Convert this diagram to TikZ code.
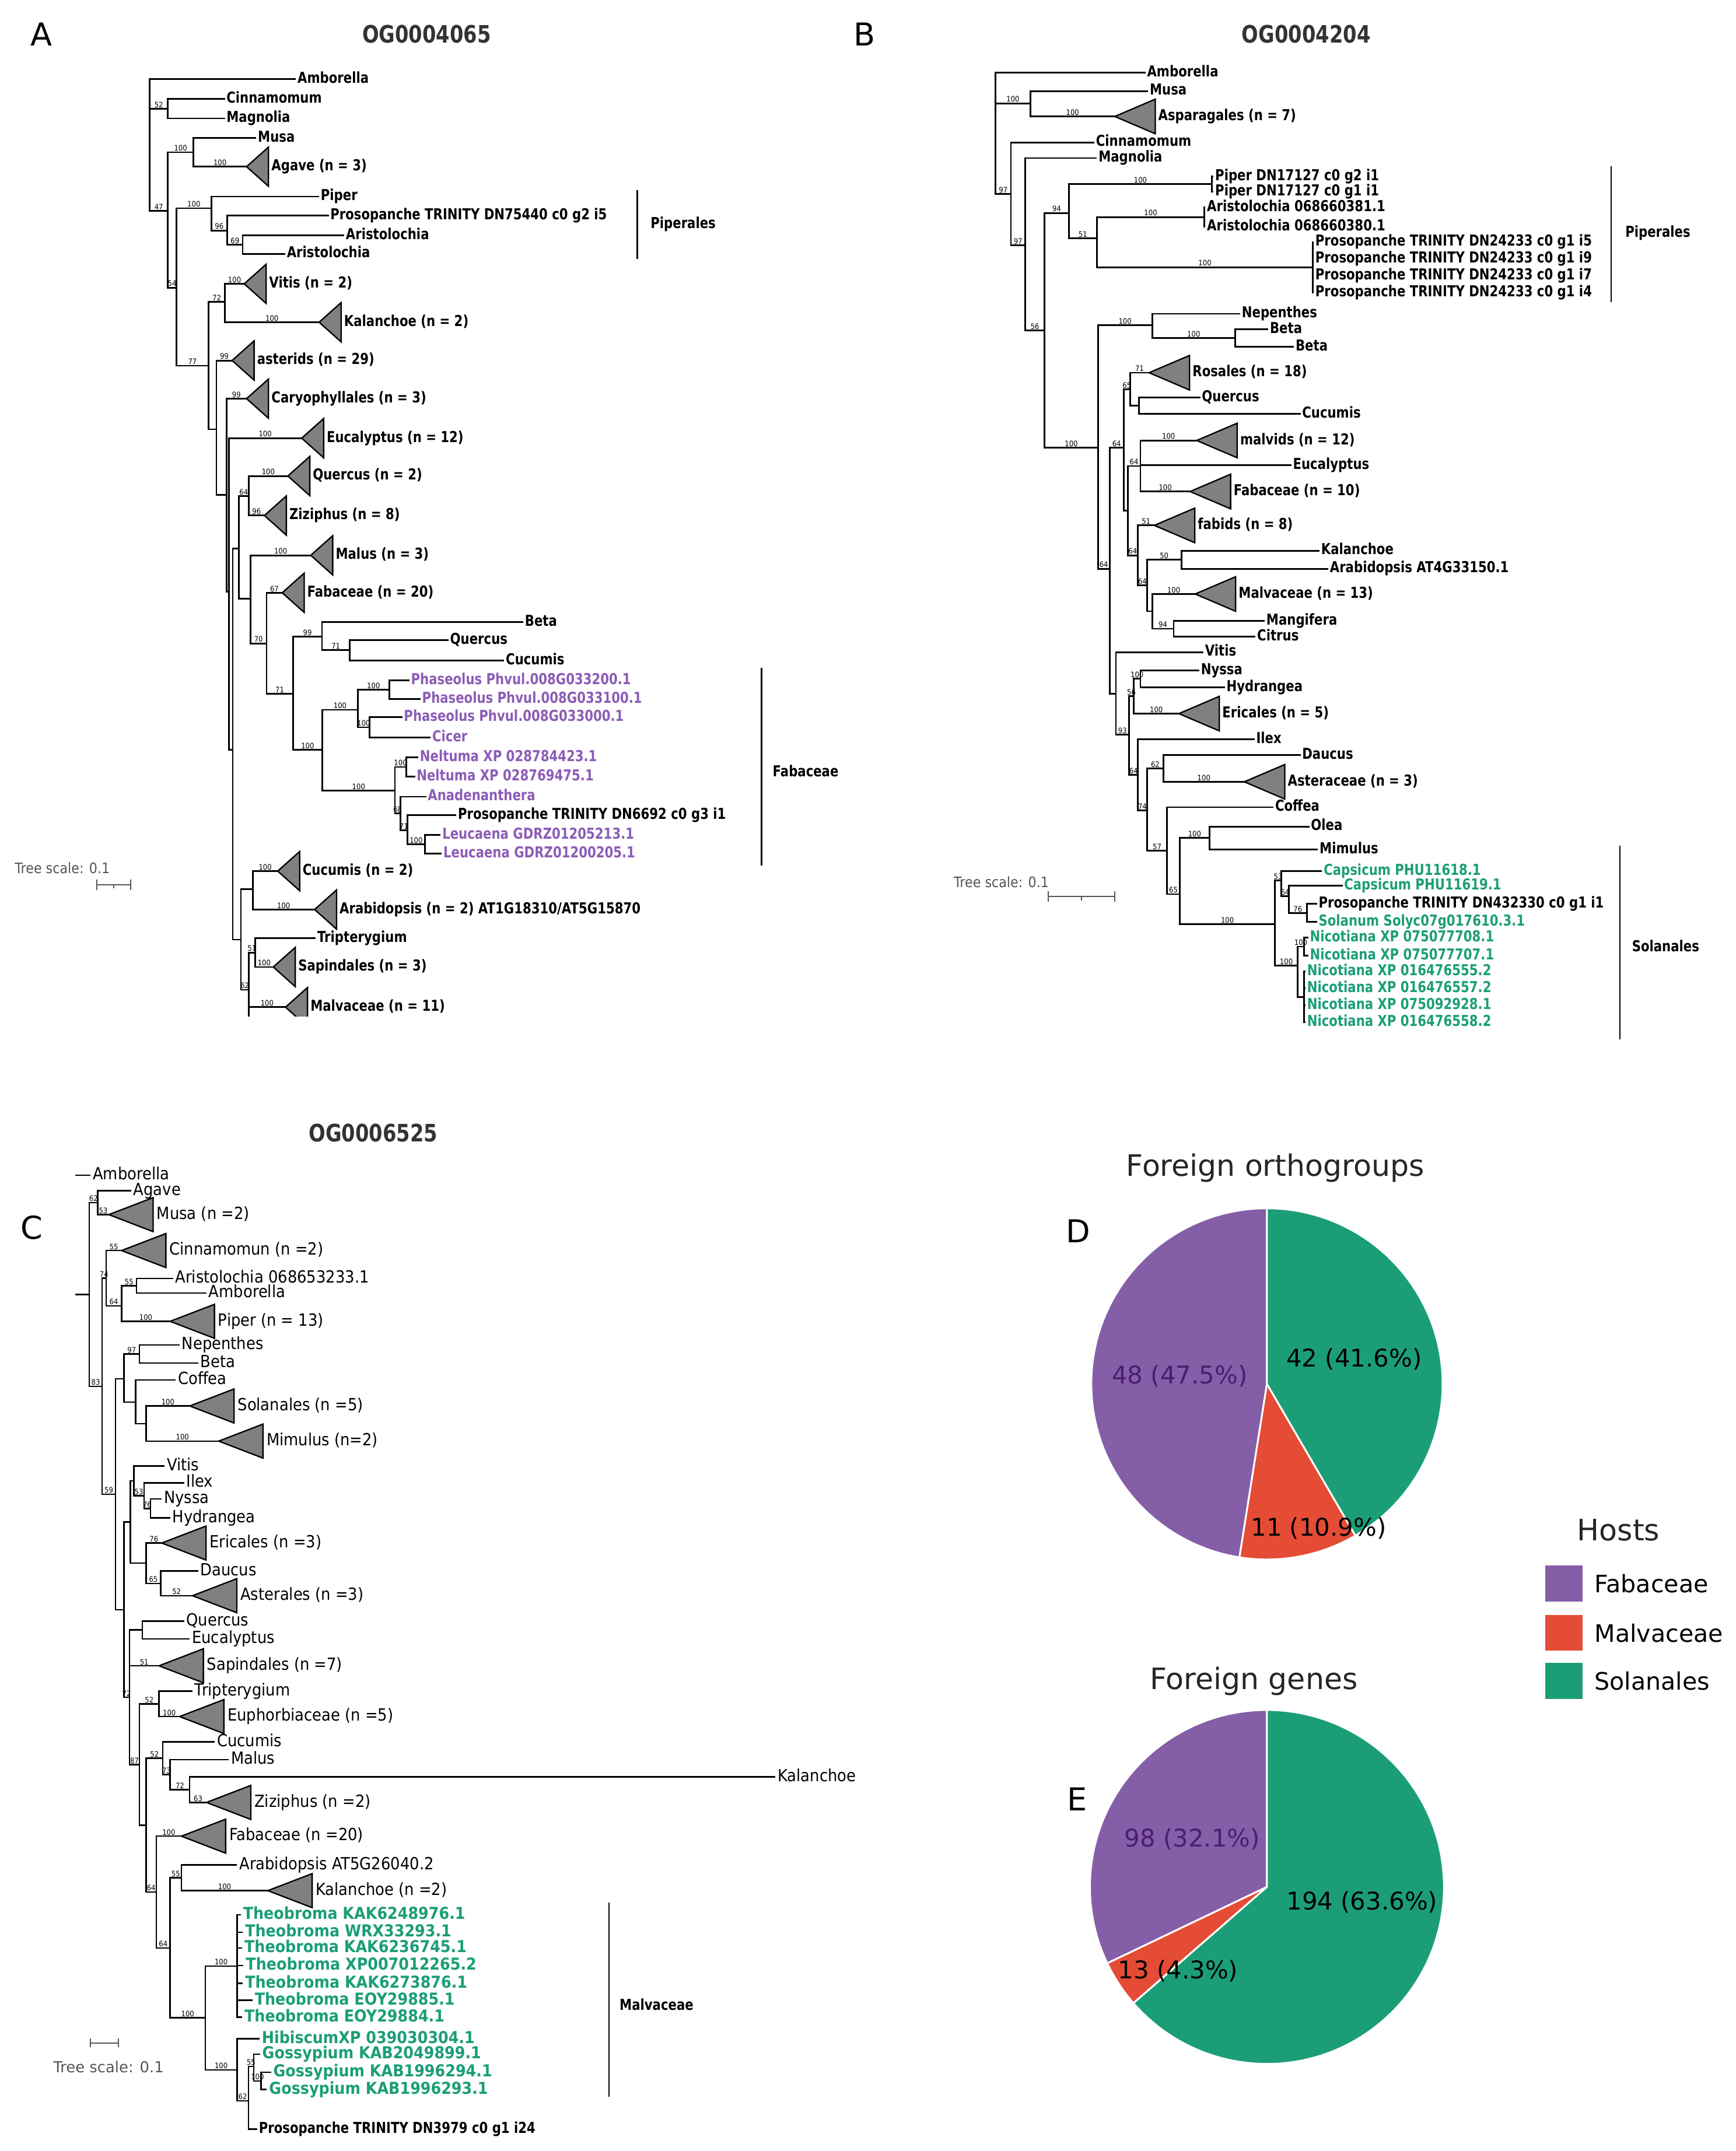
\documentclass[tikz,border=0pt]{standalone}
\usepackage{fontspec}
\setmainfont{DejaVu Sans}
\newfontfamily\cnd{DejaVu Sans}[FakeStretch=0.9]
\newfontfamily\cndn{DejaVu Sans}[FakeStretch=0.82]
\definecolor{fabc}{HTML}{855EA8}
\definecolor{malc}{HTML}{E54C35}
\definecolor{solc}{HTML}{1B9E77}
\definecolor{fabtxt}{HTML}{8C5CB6}
\definecolor{fabdark}{HTML}{4B1D6B}
\definecolor{titc}{HTML}{333333}
\definecolor{scalec}{HTML}{555555}
\tikzset{
  br/.style={line width=1.2pt},
  brc/.style={line width=1pt},
  bar/.style={line width=1pt},
  lfa/.style={anchor=west, inner xsep=1pt, inner ysep=0pt, text height=8pt, text depth=2.2pt,
    font=\cndn\bfseries\fontsize{11}{13}\selectfont},
  lfc/.style={anchor=west, inner xsep=1.5pt, inner ysep=0pt, text height=8.9pt, text depth=2.4pt,
    font=\cnd\fontsize{12.2}{14}\selectfont},
  lfcb/.style={lfc, text height=8.8pt, text depth=2.4pt, text=solc,
    font=\cnd\bfseries\fontsize{12}{14}\selectfont},
  fab/.style={text=fabtxt},
  sol/.style={text=solc},
  bs/.style={pos=.75, anchor=south, inner sep=0.3pt, font=\cnd\fontsize{5.5}{6}\selectfont},
  cladeshape/.style={draw, fill=gray, line width=1pt},
  grp/.style={anchor=west, inner sep=0pt, font=\cndn\bfseries\fontsize{11}{13}\selectfont},
  ttl/.style={text=titc, font=\cndn\bfseries\fontsize{17.5}{20}\selectfont},
  pnl/.style={font=\fontsize{23}{26}\selectfont},
  tsc/.style={anchor=west, inner sep=0pt, text=scalec, font=\cnd\fontsize{10.5}{12}\selectfont},
  sbar/.style={line width=0.9pt, draw=scalec},
  ptitle/.style={text=black!85, font=\fontsize{21.5}{24}\selectfont},
  plab/.style={font=\fontsize{17.8}{20}\selectfont},
  key/.style={minimum width=27.3pt, minimum height=26.2pt, inner sep=0pt},
  ltext/.style={anchor=west, inner sep=0pt, font=\fontsize{17.5}{20}\selectfont},
}
% collapsed clade: name, apex x, apex y, width, half height, label, label style
\newcommand{\clade}[7]{%
  \coordinate (#1) at (#2,#3);
  \draw[cladeshape] (#1) -- ++(#4,-#5) -- ++(0,2*#5) -- cycle;
  \node[#7] (#1l) at (#2+#4+1,#3) {#6};}
\newcommand{\slice}[4]{%
  \filldraw[fill=#3, draw=white, line width=1.3pt] (0,0) -- (#1:#4pt)
    arc[start angle=#1, end angle=#2, radius=#4pt] -- cycle;}

\begin{document}
\begin{tikzpicture}[x=1pt,y=-1pt]
  \fill[white] (0,0) rectangle (1265,1568);
  \useasboundingbox (0,0) rectangle (1265,1568);

  % ---------------- A
  \node[pnl] (pA) at (30,25) {A};
  \node[ttl] (tA) at (311,25) {OG0004065};

  \begin{scope}
  \clip (0,0) rectangle (640,741);
  \coordinate (Ar) at (109.2,105.6);
  \coordinate (A52) at (122.3,79.3);
  \coordinate (A47) at (122.3,153.7);
  \coordinate (A100) at (141.0,111.0);
  \coordinate (A54) at (128.6,209.7);
  \coordinate (Apip) at (154.0,151.8);
  \coordinate (A96) at (165.6,168.0);
  \coordinate (A69) at (176.9,178.4);
  \coordinate (A77) at (152.0,266.6);
  \coordinate (A72) at (163.9,220.1);
  \coordinate (An1) at (157.7,312.9);
  \coordinate (An2) at (165.0,360.9);
  \coordinate (An2b) at (166.7,431.2);
  \coordinate (An3) at (169.6,546.7);
  \coordinate (An4) at (174.0,399.9);
  \coordinate (An5) at (181.3,361.7);
  \coordinate (An6) at (182.6,436.5);
  \coordinate (An7) at (194.3,469.0);
  \coordinate (An8) at (213.5,505.6);
  \coordinate (An9) at (234.7,464.1);
  \coordinate (An9b) at (254.8,473.9);
  \coordinate (An10) at (235.0,546.7);
  \coordinate (An11) at (260.7,517.4);
  \coordinate (An11a) at (283.8,502.8);
  \coordinate (An11b) at (269.5,530.2);
  \coordinate (An12) at (287.8,576.4);
  \coordinate (An12a) at (296.0,559.1);
  \coordinate (An12b) at (291.9,593.0);
  \coordinate (An12c) at (296.8,605.2);
  \coordinate (An12d) at (309.8,615.4);
  \coordinate (An13) at (175.6,684.9);
  \coordinate (An14) at (184.2,648.3);
  \coordinate (An15) at (181.3,721.5);
  \coordinate (An16) at (185.9,694.4);
  \coordinate (Acut) at (181.3,741);

  \node[lfa] (Aamb) at (215.7,57.5) {Amborella};
  \node[lfa] (Acin) at (163.9,72.1) {Cinnamomum};
  \node[lfa] (Amag) at (163.9,86.3) {Magnolia};
  \node[lfa] (Amus) at (186.8,100.6) {Musa};
  \node[lfa] (Apiper) at (232.6,143.3) {Piper};
  \node[lfa] (Apro) at (239.6,157.1) {Prosopanche TRINITY DN75440 c0 g2 i5};
  \node[lfa] (Aari) at (250.9,171.7) {Aristolochia};
  \node[lfa] (Aarib) at (207.9,185.0) {Aristolochia};
  \node[lfa] (Abeta) at (381.4,453.6) {Beta};
  \node[lfa] (Aque) at (326.9,466.6) {Quercus};
  \node[lfa] (Acuc) at (367.5,481.6) {Cucumis};
  \node[lfa,fab] (Aph1) at (298.4,495.9) {Phaseolus Phvul.008G033200.1};
  \node[lfa,fab] (Aph2) at (306.5,509.7) {Phaseolus Phvul.008G033100.1};
  \node[lfa,fab] (Aph3) at (293.2,522.8) {Phaseolus Phvul.008G033000.1};
  \node[lfa,fab] (Acic) at (313.9,537.7) {Cicer};
  \node[lfa,fab] (Anel1) at (304.9,552.0) {Neltuma XP 028784423.1};
  \node[lfa,fab] (Anel2) at (302.5,566.2) {Neltuma XP 028769475.1};
  \node[lfa,fab] (Aana) at (310.6,580.8) {Anadenanthera};
  \node[lfa] (Apro2) at (332.6,594.3) {Prosopanche TRINITY DN6692 c0 g3 i1};
  \node[lfa,fab] (Aleu1) at (321.2,608.5) {Leucaena GDRZ01205213.1};
  \node[lfa,fab] (Aleu2) at (322.0,622.3) {Leucaena GDRZ01200205.1};
  \node[lfa] (Atri) at (230.1,683.8) {Tripterygium};

  \clade{Aaga}{179.7}{121.5}{16}{14.3}{Agave (n = 3)}{lfa}
  \clade{Avit}{178.0}{206.9}{16}{14.3}{Vitis (n = 2)}{lfa}
  \clade{Akal}{232.6}{234.9}{16}{14.3}{Kalanchoe (n = 2)}{lfa}
  \clade{Aast}{169.2}{262.8}{16}{14.3}{asterids (n = 29)}{lfa}
  \clade{Acar}{179.7}{290.6}{16}{14.3}{Caryophyllales (n = 3)}{lfa}
  \clade{Aeuc}{219.9}{319.4}{16}{14.3}{Eucalyptus (n = 12)}{lfa}
  \clade{Aqc}{209.8}{347.0}{16}{14.3}{Quercus (n = 2)}{lfa}
  \clade{Aziz}{192.7}{375.8}{16}{14.3}{Ziziphus (n = 8)}{lfa}
  \clade{Amal}{226.5}{404.8}{16}{14.3}{Malus (n = 3)}{lfa}
  \clade{Afab}{205.7}{432.1}{16}{14.3}{Fabaceae (n = 20)}{lfa}
  \clade{Acc}{202.4}{635.0}{16}{14.3}{Cucumis (n = 2)}{lfa}
  \clade{Aara}{229.3}{663.0}{16}{14.3}{Arabidopsis (n = 2) AT1G18310/AT5G15870}{lfa}
  \clade{Asap}{199.2}{704.9}{16}{14.3}{Sapindales (n = 3)}{lfa}
  \clade{Amv}{208.1}{734.2}{16}{14.3}{Malvaceae (n = 11)}{lfa}

  \draw[br] (Ar) |- (Aamb.west) (Ar) |- node[bs]{52} (A52) (Ar) |- node[bs]{47} (A47);
  \draw[br] (A52) |- (Acin.west) (A52) |- (Amag.west);
  \draw[br] (A47) |- node[bs]{100} (A100) (A47) |- node[bs]{54} (A54);
  \draw[br] (A100) |- (Amus.west) (A100) |- node[bs]{100} (Aaga);
  \draw[br] (A54) |- node[bs]{100} (Apip) (A54) |- node[bs]{77} (A77);
  \draw[br] (Apip) |- (Apiper.west) (Apip) |- node[bs]{96} (A96);
  \draw[br] (A96) |- (Apro.west) (A96) |- node[bs]{69} (A69);
  \draw[br] (A69) |- (Aari.west) (A69) |- (Aarib.west);
  \draw[br] (A77) |- node[bs]{72} (A72) (A77) |- (An1);
  \draw[br] (A72) |- node[bs]{100} (Avit) (A72) |- node[bs]{100} (Akal);
  \draw[br] (An1) |- node[bs]{99} (Aast) (An1) |- (An2);
  \draw[br] (An2) |- node[bs]{99} (Acar) (An2) |- (An2b);
  \draw[br] (An2b) |- node[bs]{100} (Aeuc) (An2b) |- (An3);
  \draw[br] (An3) |- (An4) (An3) |- (An13);
  \draw[br] (An4) |- node[bs]{64} (An5) (An4) |- (An6);
  \draw[br] (An5) |- node[bs]{100} (Aqc) (An5) |- node[bs]{96} (Aziz);
  \draw[br] (An6) |- node[bs]{100} (Amal) (An6) |- node[bs]{70} (An7);
  \draw[br] (An7) |- node[bs]{67} (Afab) (An7) |- node[bs]{71} (An8);
  \draw[br] (An8) |- node[bs]{99} (An9) (An8) |- node[bs]{100} (An10);
  \draw[br] (An9) |- (Abeta.west) (An9) |- node[bs]{71} (An9b);
  \draw[br] (An9b) |- (Aque.west) (An9b) |- (Acuc.west);
  \draw[br] (An10) |- node[bs]{100} (An11) (An10) |- node[bs]{100} (An12);
  \draw[br] (An11) |- node[bs]{100} (An11a) (An11) |- node[bs]{100} (An11b);
  \draw[br] (An11a) |- (Aph1.west) (An11a) |- (Aph2.west);
  \draw[br] (An11b) |- (Aph3.west) (An11b) |- (Acic.west);
  \draw[br] (An12) |- node[bs]{100} (An12a) (An12) |- node[bs]{68} (An12b);
  \draw[br] (An12a) |- (Anel1.west) (An12a) |- (Anel2.west);
  \draw[br] (An12b) |- (Aana.west) (An12b) |- node[bs]{71} (An12c);
  \draw[br] (An12c) |- (Apro2.west) (An12c) |- node[bs]{100} (An12d);
  \draw[br] (An12d) |- (Aleu1.west) (An12d) |- (Aleu2.west);
  \draw[br] (An13) |- (An14) (An13) |- node[bs]{62} (An15);
  \draw[br] (An14) |- node[bs]{100} (Acc) (An14) |- node[bs]{100} (Aara);
  \draw[br] (An15) |- node[bs]{51} (An16) (An15) |- node[bs]{100} (Amv) (An15) -- (Acut);
  \draw[br] (An16) |- (Atri.west) (An16) |- node[bs]{100} (Asap);
  \end{scope}

  \draw[bar] (464.5,138.5) -- (464.5,188.8);
  \node[grp] (gApip) at (474,163.6) {Piperales};
  \draw[bar] (555,487) -- (555,631);
  \node[grp] (gAfab) at (563,562) {Fabaceae};
  \node[tsc] (sA) at (10.6,632.8) {Tree scale: 0.1};
  \draw[sbar] (70.5,644.8) -- (95.1,644.8) (70.5,641) -- (70.5,648.6)
    (95.1,641) -- (95.1,648.6) (82.8,644.8) -- (82.8,647.5);

  % ---------------- B
  \node[pnl] (pB) at (630,25) {B};
  \node[ttl] (tB) at (952,25) {OG0004204};

  \coordinate (Br) at (725.6,97.2);
  \coordinate (B100a) at (751.0,75.3);
  \coordinate (B97a) at (736.8,141.5);
  \coordinate (B97b) at (747.2,178.9);
  \coordinate (B56) at (761.4,240.9);
  \coordinate (B94) at (779.0,155.3);
  \coordinate (Bpip) at (883.4,134.2);
  \coordinate (B51) at (799.5,173.7);
  \coordinate (Bari) at (877.8,158.2);
  \coordinate (Bpr) at (956.9,194.8);
  \coordinate (B100b) at (800.2,326.4);
  \coordinate (B100c) at (839.8,237.2);
  \coordinate (B100d) at (900.2,246.4);
  \coordinate (B64) at (808.8,414.6);
  \coordinate (B64a) at (818.9,326.4);
  \coordinate (B65) at (823.7,283.9);
  \coordinate (Bqc) at (830.1,295.8);
  \coordinate (B64b) at (821.9,372.2);
  \coordinate (Bmef) at (831.2,339.7);
  \coordinate (Bx) at (829.3,404.8);
  \coordinate (By) at (836.0,426.8);
  \coordinate (Bka) at (861.0,408.0);
  \coordinate (Bmm) at (839.8,445.6);
  \coordinate (Bmc) at (855.4,458.3);
  \coordinate (Bl) at (813.3,505.6);
  \coordinate (B93) at (823.0,535.5);
  \coordinate (Be) at (826.3,507.5);
  \coordinate (Bnh) at (831.2,494.8);
  \coordinate (B64c) at (829.3,564.8);
  \coordinate (B74) at (836.0,590.6);
  \coordinate (Bda) at (848.0,560.2);
  \coordinate (B57) at (850.6,620.1);
  \coordinate (B65b) at (859.9,651.8);
  \coordinate (Bom) at (881.5,610.9);
  \coordinate (Bsol) at (929.3,673.8);
  \coordinate (B53) at (933.8,641.7);
  \coordinate (B53b) at (939.4,653.2);
  \coordinate (B76) at (952.4,665.5);
  \coordinate (Bnic) at (945.7,704.0);
  \coordinate (Bna) at (950.5,690.0);
  \coordinate (Bnb) at (950.5,726.7);

  \node[lfa] (Bamb) at (834.9,52.9) {Amborella};
  \node[lfa] (Bmus) at (836.8,66.4) {Musa};
  \node[lfa] (Bcin) at (797.6,103.8) {Cinnamomum};
  \node[lfa] (Bmag) at (799.5,115.2) {Magnolia};
  \node[lfa] (Bpi1) at (884.5,128.5) {Piper DN17127 c0 g2 i1};
  \node[lfa] (Bpi2) at (884.5,139.9) {Piper DN17127 c0 g1 i1};
  \node[lfa] (Bar1) at (878.5,151.3) {Aristolochia 068660381.1};
  \node[lfa] (Bar2) at (878.5,165.1) {Aristolochia 068660380.1};
  \node[lfa] (Bpr1) at (957.5,176.5) {Prosopanche TRINITY DN24233 c0 g1 i5};
  \node[lfa] (Bpr2) at (957.5,188.7) {Prosopanche TRINITY DN24233 c0 g1 i9};
  \node[lfa] (Bpr3) at (957.5,200.9) {Prosopanche TRINITY DN24233 c0 g1 i7};
  \node[lfa] (Bpr4) at (957.5,213.1) {Prosopanche TRINITY DN24233 c0 g1 i4};
  \node[lfa] (Bnep) at (903.9,228.7) {Nepenthes};
  \node[lfa] (Bbe1) at (924.4,240.0) {Beta};
  \node[lfa] (Bbe2) at (943.1,252.9) {Beta};
  \node[lfa] (Bque) at (874.8,289.8) {Quercus};
  \node[lfa] (Bcuc) at (947.9,301.7) {Cucumis};
  \node[lfa] (Beuc) at (941.2,339.1) {Eucalyptus};
  \node[lfa] (Bkal) at (961.7,401.4) {Kalanchoe};
  \node[lfa] (Bara) at (968.1,414.6) {Arabidopsis AT4G33150.1};
  \node[lfa] (Bman) at (921.8,452.6) {Mangifera};
  \node[lfa] (Bcit) at (915.1,464.0) {Citrus};
  \node[lfa] (Bvit) at (877.1,475.4) {Vitis};
  \node[lfa] (Bnys) at (874.1,488.6) {Nyssa};
  \node[lfa] (Bhyd) at (892.7,501.0) {Hydrangea};
  \node[lfa] (Bile) at (914.4,539.0) {Ilex};
  \node[lfa] (Bdau) at (947.9,550.5) {Daucus};
  \node[lfa] (Bcof) at (928.2,588.4) {Coffea};
  \node[lfa] (Bole) at (954.3,602.5) {Olea};
  \node[lfa] (Bmim) at (960.6,619.2) {Mimulus};
  \node[lfa,sol] (Bcap1) at (963.6,635.1) {Capsicum PHU11618.1};
  \node[lfa,sol] (Bcap2) at (978.5,645.6) {Capsicum PHU11619.1};
  \node[lfa] (Bpx) at (959.9,658.9) {Prosopanche TRINITY DN432330 c0 g1 i1};
  \node[lfa,sol] (Bsola) at (959.9,672.1) {Solanum Solyc07g017610.3.1};
  \node[lfa,sol] (Bni1) at (953.5,683.5) {Nicotiana XP 075077708.1};
  \node[lfa,sol] (Bni2) at (953.5,696.7) {Nicotiana XP 075077707.1};
  \node[lfa,sol] (Bni3) at (951.5,708.2) {Nicotiana XP 016476555.2};
  \node[lfa,sol] (Bni4) at (951.5,720.5) {Nicotiana XP 016476557.2};
  \node[lfa,sol] (Bni5) at (951.5,732.9) {Nicotiana XP 075092928.1};
  \node[lfa,sol] (Bni6) at (951.5,745.2) {Nicotiana XP 016476558.2};

  \clade{Basp}{812.5}{84.9}{29.5}{12.6}{Asparagales (n = 7)}{lfa}
  \clade{Bros}{837.5}{271.7}{29.5}{12.6}{Rosales (n = 18)}{lfa}
  \clade{Bmlv}{872.2}{321.1}{29.5}{12.6}{malvids (n = 12)}{lfa}
  \clade{Bfab}{867.4}{358.3}{29.5}{12.6}{Fabaceae (n = 10)}{lfa}
  \clade{Bfbd}{841.3}{383.0}{29.5}{12.6}{fabids (n = 8)}{lfa}
  \clade{Bmlc}{871.1}{433.0}{29.5}{12.6}{Malvaceae (n = 13)}{lfa}
  \clade{Beri}{859.2}{520.2}{29.5}{12.6}{Ericales (n = 5)}{lfa}
  \clade{Bast}{906.9}{569.9}{29.5}{12.6}{Asteraceae (n = 3)}{lfa}

  \draw[br] (Br) |- (Bamb.west) (Br) |- node[bs]{100} (B100a) (Br) |- node[bs]{97} (B97a);
  \draw[br] (B100a) |- (Bmus.west) (B100a) |- node[bs]{100} (Basp);
  \draw[br] (B97a) |- (Bcin.west) (B97a) |- node[bs]{97} (B97b);
  \draw[br] (B97b) |- (Bmag.west) (B97b) |- node[bs]{56} (B56);
  \draw[br] (B56) |- node[bs]{94} (B94) (B56) |- node[bs]{100} (B100b);
  \draw[br] (B94) |- node[bs]{100} (Bpip) (B94) |- node[bs]{51} (B51);
  \draw[br] (Bpip) |- (Bpi1.west) (Bpip) |- (Bpi2.west);
  \draw[br] (B51) |- node[bs]{100} (Bari) (B51) |- node[bs]{100} (Bpr);
  \draw[br] (Bari) |- (Bar1.west) (Bari) |- (Bar2.west);
  \draw[br] (Bpr) |- (Bpr1.west) (Bpr) |- (Bpr2.west) (Bpr) |- (Bpr3.west) (Bpr) |- (Bpr4.west);
  \draw[br] (B100b) |- node[bs]{100} (B100c) (B100b) |- node[bs]{64} (B64);
  \draw[br] (B100c) |- (Bnep.west) (B100c) |- node[bs]{100} (B100d);
  \draw[br] (B100d) |- (Bbe1.west) (B100d) |- (Bbe2.west);
  \draw[br] (B64) |- node[bs]{64} (B64a) (B64) |- (Bl);
  \draw[br] (B64a) |- node[bs]{65} (B65) (B64a) |- (B64b);
  \draw[br] (B65) |- node[bs]{71} (Bros) (B65) |- (Bqc);
  \draw[br] (Bqc) |- (Bque.west) (Bqc) |- (Bcuc.west);
  \draw[br] (B64b) |- node[bs]{64} (Bmef) (B64b) |- node[bs]{64} (Bx);
  \draw[br] (Bmef) |- node[bs]{100} (Bmlv) (Bmef) |- (Beuc.west) (Bmef) |- node[bs]{100} (Bfab);
  \draw[br] (Bx) |- node[bs]{51} (Bfbd) (Bx) |- node[bs]{64} (By);
  \draw[br] (By) |- node[bs]{50} (Bka) (By) |- (Bmm);
  \draw[br] (Bka) |- (Bkal.west) (Bka) |- (Bara.west);
  \draw[br] (Bmm) |- node[bs]{100} (Bmlc) (Bmm) |- node[bs]{94} (Bmc);
  \draw[br] (Bmc) |- (Bman.west) (Bmc) |- (Bcit.west);
  \draw[br] (Bl) |- (Bvit.west) (Bl) |- node[bs]{93} (B93);
  \draw[br] (B93) |- node[bs]{56} (Be) (B93) |- node[bs]{64} (B64c);
  \draw[br] (Be) |- node[bs]{100} (Bnh) (Be) |- node[bs]{100} (Beri);
  \draw[br] (Bnh) |- (Bnys.west) (Bnh) |- (Bhyd.west);
  \draw[br] (B64c) |- (Bile.west) (B64c) |- node[bs]{74} (B74);
  \draw[br] (B74) |- node[bs]{62} (Bda) (B74) |- node[bs]{57} (B57);
  \draw[br] (Bda) |- (Bdau.west) (Bda) |- node[bs]{100} (Bast);
  \draw[br] (B57) |- (Bcof.west) (B57) |- node[bs]{65} (B65b);
  \draw[br] (B65b) |- node[bs]{100} (Bom) (B65b) |- node[bs]{100} (Bsol);
  \draw[br] (Bom) |- (Bole.west) (Bom) |- (Bmim.west);
  \draw[br] (Bsol) |- node[bs]{53} (B53) (Bsol) |- node[bs]{100} (Bnic);
  \draw[br] (B53) |- (Bcap1.west) (B53) |- node[bs]{64} (B53b);
  \draw[br] (B53b) |- (Bcap2.west) (B53b) |- node[bs]{76} (B76);
  \draw[br] (B76) |- (Bpx.west) (B76) |- (Bsola.west);
  \draw[br] (Bnic) |- node[bs]{100} (Bna) (Bnic) |- (Bnb);
  \draw[br] (Bna) |- (Bni1.west) (Bna) |- (Bni2.west);
  \draw[br] (Bnb) |- (Bni3.west) (Bnb) |- (Bni4.west) (Bnb) |- (Bni5.west) (Bnb) |- (Bni6.west);

  \draw[bar] (1174.4,121.2) -- (1174.4,220.4);
  \node[grp] (gBpip) at (1184.4,170) {Piperales};
  \draw[bar] (1180.7,616.6) -- (1180.7,757.5);
  \node[grp] (gBsol) at (1189.3,689.7) {Solanales};
  \node[tsc] (sB) at (695.0,643.0) {Tree scale: 0.1};
  \draw[sbar] (764.0,653.6) -- (812.5,653.6) (764.0,649.8) -- (764.0,657.4)
    (812.5,649.8) -- (812.5,657.4) (788.2,653.6) -- (788.2,656.3);

  % ---------------- C
  \node[pnl] (pC) at (23,895) {C};
  \node[ttl] (tC) at (272,826) {OG0006525};

  \coordinate (Cst) at (54.9,943.6);
  \coordinate (Cr) at (65.1,943.6);
  \coordinate (Camb0) at (54.9,856.6);
  \coordinate (Cagm) at (71.2,876.7);
  \coordinate (C83) at (74.4,1010.5);
  \coordinate (C74) at (77.3,931.7);
  \coordinate (C64) at (88.6,951.9);
  \coordinate (Caa) at (99.6,937.3);
  \coordinate (C59) at (84.2,1089.2);
  \coordinate (Cnm) at (90.3,1005.0);
  \coordinate (C97) at (101.7,987.0);
  \coordinate (Cc) at (98.8,1022.0);
  \coordinate (Csm) at (106.5,1037.7);
  \coordinate (Ck) at (90.3,1173.4);
  \coordinate (Cq) at (95.0,1109.5);
  \coordinate (Cv) at (97.6,1079.5);
  \coordinate (Cin) at (104.9,1090.3);
  \coordinate (Cnh) at (109.8,1099.6);
  \coordinate (C61) at (106.5,1139.5);
  \coordinate (Cda) at (117.1,1154.2);
  \coordinate (C72) at (94.3,1237.2);
  \coordinate (Cqe) at (103.7,1188.1);
  \coordinate (C52) at (101.7,1286.3);
  \coordinate (Cte) at (115.9,1242.1);
  \coordinate (Cg) at (106.5,1330.5);
  \coordinate (Ccm) at (118.7,1281.7);
  \coordinate (Cmkz) at (124.0,1293.6);
  \coordinate (Ckz) at (138.3,1304.6);
  \coordinate (Cf) at (113.9,1379.2);
  \coordinate (C64b) at (124.0,1419.9);
  \coordinate (Cak) at (132.2,1368.8);
  \coordinate (Cm) at (149.6,1470.9);
  \coordinate (Cth) at (172.8,1433.1);
  \coordinate (Ch) at (172.8,1508.8);
  \coordinate (C62) at (181.0,1531.3);
  \coordinate (Cgo) at (185.0,1506.2);
  \coordinate (Cgo2) at (190.3,1516.9);

  \node[lfc] (Camb) at (66,856.6) {Amborella};
  \node[lfc] (Cag) at (95.6,868.0) {Agave};
  \node[lfc] (Car) at (126.1,931.9) {Aristolochia 068653233.1};
  \node[lfc] (Cam2) at (150.5,942.7) {Amborella};
  \node[lfc] (Cnep) at (130.9,980.3) {Nepenthes};
  \node[lfc] (Cbet) at (144.4,993.6) {Beta};
  \node[lfc] (Ccof) at (128.1,1005.9) {Coffea};
  \node[lfc] (Cvit) at (120.0,1068.6) {Vitis};
  \node[lfc] (Cile) at (134.2,1080.9) {Ilex};
  \node[lfc] (Cnys) at (117.9,1092.7) {Nyssa};
  \node[lfc] (Chyd) at (124.0,1106.5) {Hydrangea};
  \node[lfc] (Cdau) at (144.4,1145.2) {Daucus};
  \node[lfc] (Cque) at (134.2,1181.7) {Quercus};
  \node[lfc] (Ceuc) at (138.3,1194.6) {Eucalyptus};
  \node[lfc] (Ctri) at (140.3,1232.8) {Tripterygium};
  \node[lfc] (Ccuc) at (156.6,1269.8) {Cucumis};
  \node[lfc] (Cmal) at (166.7,1282.7) {Malus};
  \node[lfc] (Ckal) at (565.2,1295.3) {Kalanchoe};
  \node[lfc] (Cara) at (172.8,1359.4) {Arabidopsis AT5G26040.2};
  \node[lfcb] (Cth1) at (175.5,1395.9) {Theobroma KAK6248976.1};
  \node[lfcb] (Cth2) at (177.0,1408.5) {Theobroma WRX33293.1};
  \node[lfcb] (Cth3) at (176.5,1420.0) {Theobroma KAK6236745.1};
  \node[lfcb] (Cth4) at (177.5,1432.9) {Theobroma XP007012265.2};
  \node[lfcb] (Cth5) at (177.0,1445.8) {Theobroma KAK6273876.1};
  \node[lfcb] (Cth6) at (184.0,1458.1) {Theobroma EOY29885.1};
  \node[lfcb] (Cth7) at (176.5,1470.4) {Theobroma EOY29884.1};
  \node[lfcb] (Chib) at (189.1,1486.2) {HibiscumXP 039030304.1};
  \node[lfcb] (Cgs1) at (189.5,1497.3) {Gossypium KAB2049899.1};
  \node[lfcb] (Cgs2) at (197.5,1510.6) {Gossypium KAB1996294.1};
  \node[lfcb] (Cgs3) at (194.5,1523.2) {Gossypium KAB1996293.1};
  \node[lfa] (Cpro) at (187.5,1552.1) {Prosopanche TRINITY DN3979 c0 g1 i24};

  \clade{Cmus}{79.3}{885.4}{32.3}{12.4}{Musa (n =2)}{lfc}
  \clade{Ccin}{88.6}{911.6}{32.3}{12.4}{Cinnamomun (n =2)}{lfc}
  \clade{Cpip}{124.0}{963.2}{32.3}{12.4}{Piper (n = 13)}{lfc}
  \clade{Csol}{138.3}{1024.9}{32.3}{12.4}{Solanales (n =5)}{lfc}
  \clade{Cmim}{159.4}{1050.5}{32.3}{12.4}{Mimulus (n=2)}{lfc}
  \clade{Ceri}{117.9}{1124.8}{32.3}{12.4}{Ericales (n =3)}{lfc}
  \clade{Cast}{140.3}{1163.2}{32.3}{12.4}{Asterales (n =3)}{lfc}
  \clade{Csap}{115.9}{1214.3}{32.3}{12.4}{Sapindales (n =7)}{lfc}
  \clade{Ceup}{130.9}{1251.3}{32.3}{12.4}{Euphorbiaceae (n =5)}{lfc}
  \clade{Cziz}{150.5}{1313.9}{32.3}{12.4}{Ziziphus (n =2)}{lfc}
  \clade{Cfab}{132.2}{1338.5}{32.3}{12.4}{Fabaceae (n =20)}{lfc}
  \clade{Ckl2}{195.2}{1378.2}{32.3}{12.4}{Kalanchoe (n =2)}{lfc}

  \draw[brc] (Camb0) -- (Camb.west) (Cst) -- (Cr);
  \draw[brc] (Cr) |- node[bs]{62} (Cagm) (Cr) |- node[bs]{83} (C83);
  \draw[brc] (Cagm) |- (Cag.west) (Cagm) |- node[bs]{53} (Cmus);
  \draw[brc] (C83) |- node[bs]{74} (C74) (C83) |- node[bs]{59} (C59);
  \draw[brc] (C74) |- node[bs]{55} (Ccin) (C74) |- node[bs]{64} (C64);
  \draw[brc] (C64) |- node[bs]{55} (Caa) (C64) |- node[bs]{100} (Cpip);
  \draw[brc] (Caa) |- (Car.west) (Caa) |- (Cam2.west);
  \draw[brc] (C59) |- (Cnm) (C59) |- (Ck);
  \draw[brc] (Cnm) |- node[bs]{97} (C97) (Cnm) |- (Cc);
  \draw[brc] (C97) |- (Cnep.west) (C97) |- (Cbet.west);
  \draw[brc] (Cc) |- (Ccof.west) (Cc) |- (Csm);
  \draw[brc] (Csm) |- node[bs]{100} (Csol) (Csm) |- node[bs]{100} (Cmim);
  \draw[brc] (Ck) |- (Cq) (Ck) |- node[bs]{72} (C72);
  \draw[brc] (Cq) |- (Cv) (Cq) |- (C61);
  \draw[brc] (Cv) |- (Cvit.west) (Cv) |- node[bs]{53} (Cin);
  \draw[brc] (Cin) |- (Cile.west) (Cin) |- node[bs]{76} (Cnh);
  \draw[brc] (Cnh) |- (Cnys.west) (Cnh) |- (Chyd.west);
  \draw[brc] (C61) |- node[bs]{76} (Ceri) (C61) |- node[bs]{65} (Cda);
  \draw[brc] (Cda) |- (Cdau.west) (Cda) |- node[bs]{52} (Cast);
  \draw[brc] (C72) |- (Cqe) (C72) |- node[bs]{51} (Csap) (C72) |- node[bs]{87} (C52);
  \draw[brc] (Cqe) |- (Cque.west) (Cqe) |- (Ceuc.west);
  \draw[brc] (C52) |- node[bs]{52} (Cte) (C52) |- (Cg);
  \draw[brc] (Cte) |- (Ctri.west) (Cte) |- node[bs]{100} (Ceup);
  \draw[brc] (Cg) |- node[bs]{52} (Ccm) (Cg) |- node[bs]{64} (Cf);
  \draw[brc] (Ccm) |- (Ccuc.west) (Ccm) |- node[bs]{73} (Cmkz);
  \draw[brc] (Cmkz) |- (Cmal.west) (Cmkz) |- node[bs]{72} (Ckz);
  \draw[brc] (Ckz) |- (Ckal.west) (Ckz) |- node[bs]{63} (Cziz);
  \draw[brc] (Cf) |- node[bs]{100} (Cfab) (Cf) |- node[bs]{64} (C64b);
  \draw[brc] (C64b) |- node[bs]{55} (Cak) (C64b) |- node[bs]{100} (Cm);
  \draw[brc] (Cak) |- (Cara.west) (Cak) |- node[bs]{100} (Ckl2);
  \draw[brc] (Cm) |- node[bs]{100} (Cth) (Cm) |- node[bs]{100} (Ch);
  \draw[brc] (Cth) |- (Cth1.west) (Cth) |- (Cth2.west) (Cth) |- (Cth3.west) (Cth) |- (Cth4.west)
    (Cth) |- (Cth5.west) (Cth) |- (Cth6.west) (Cth) |- (Cth7.west);
  \draw[brc] (Ch) |- (Chib.west) (Ch) |- node[bs]{62} (C62);
  \draw[brc] (C62) |- node[bs]{55} (Cgo) (C62) |- (Cpro.west);
  \draw[brc] (Cgo) |- (Cgs1.west) (Cgo) |- node[bs]{100} (Cgo2);
  \draw[brc] (Cgo2) |- (Cgs2.west) (Cgo2) |- (Cgs3.west);

  \draw[bar] (444.0,1387.0) -- (444.0,1528.4);
  \node[grp] (gCmal) at (451.4,1461.0) {Malvaceae};
  \node[tsc, font=\fontsize{11}{13}\selectfont] (sC) at (38.6,1506.9) {Tree scale: 0.1};
  \draw[sbar] (65.9,1489.2) -- (86.2,1489.2) (65.9,1486) -- (65.9,1492.4)
    (86.2,1486) -- (86.2,1492.4);

  % ---------------- D, E
  \node[ptitle] (tD) at (929.5,851.2) {Foreign orthogroups};
  \node[pnl] (pD) at (786,897.3) {D};
  \begin{scope}[shift={(923.4,1008.8)}]
    \slice{90}{261}{fabc}{128}
    \slice{261}{300.24}{malc}{128}
    \slice{300.24}{450}{solc}{128}
  \end{scope}
  \node[plab, text=fabdark] (lD1) at (859.8,1002.9) {48 (47.5\%)};
  \node[plab] (lD2) at (987,990.8) {42 (41.6\%)};
  \node[plab] (lD3) at (961.1,1113.9) {11 (10.9\%)};

  \node[ptitle] (tE) at (913.9,1225.4) {Foreign genes};
  \node[pnl] (pE) at (785,1311.7) {E};
  \begin{scope}[shift={(923.4,1375.5)}]
    \slice{90}{205.56}{fabc}{129}
    \slice{205.56}{221.04}{malc}{129}
    \slice{221.04}{450}{solc}{129}
  \end{scope}
  \node[plab, text=fabdark] (lE1) at (869,1340.8) {98 (32.1\%)};
  \node[plab] (lE2) at (992.7,1386.8) {194 (63.6\%)};
  \node[plab] (lE3) at (858.6,1436.7) {13 (4.3\%)};

  \node[ptitle] (hosts) at (1179.6,1115.4) {Hosts};
  \node[key, fill=fabc] (kF) at (1139.8,1154.2) {};
  \node[key, fill=malc] (kM) at (1139.8,1190.3) {};
  \node[key, fill=solc] (kS) at (1139.8,1225.2) {};
  \node[ltext] (lF) at (1162,1154.2) {Fabaceae};
  \node[ltext] (lM) at (1162,1190.3) {Malvaceae};
  \node[ltext] (lS) at (1162,1225.2) {Solanales};
\end{tikzpicture}
\end{document}
